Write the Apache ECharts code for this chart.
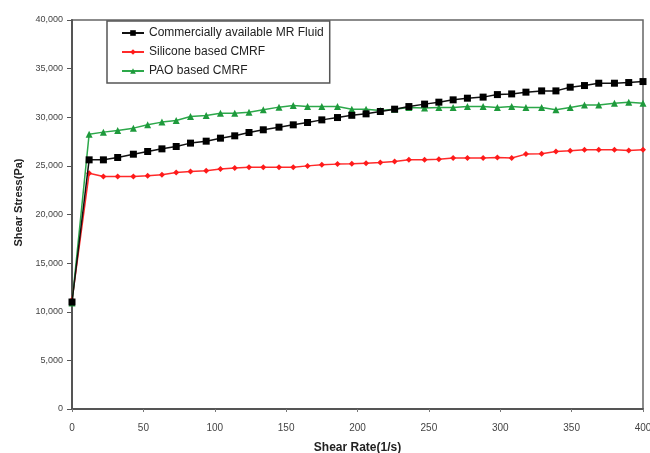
<!DOCTYPE html>
<html>
<head>
<meta charset="utf-8">
<script src="https://cdn.jsdelivr.net/npm/echarts@6/dist/echarts.min.js"></script>
<style>html,body{margin:0;padding:0;background:#fff;}#c{width:650px;height:453px;}</style>
</head>
<body>
<div id="c"></div>
<script>
var shearRate = [0, 12, 22, 32, 43, 53, 63, 73, 83, 94, 104, 114, 124, 134, 145, 155, 165, 175, 186, 196, 206, 216, 226, 236, 247, 257, 267, 277, 288, 298, 308, 318, 329, 339, 349, 359, 369, 380, 390, 400];
var commercialMR = [11000, 25620, 25620, 25860, 26200, 26480, 26750, 26990, 27340, 27540, 27850, 28090, 28430, 28710, 28980, 29220, 29460, 29730, 29970, 30200, 30350, 30590, 30830, 31100, 31350, 31550, 31790, 31960, 32070, 32330, 32400, 32580, 32710, 32710, 33090, 33260, 33500, 33500, 33570, 33670];
var siliconeCMRF = [11200, 24250, 23910, 23910, 23910, 23980, 24080, 24320, 24420, 24500, 24670, 24770, 24870, 24870, 24870, 24870, 25000, 25110, 25180, 25210, 25280, 25340, 25450, 25620, 25620, 25690, 25800, 25800, 25800, 25850, 25800, 26210, 26240, 26480, 26550, 26650, 26650, 26650, 26580, 26650];
var paoCMRF = [10900, 28260, 28470, 28630, 28880, 29220, 29500, 29660, 30070, 30180, 30420, 30420, 30520, 30760, 31040, 31200, 31100, 31100, 31100, 30830, 30830, 30690, 30830, 31000, 30940, 31000, 31000, 31100, 31100, 31000, 31100, 31000, 31000, 30760, 31000, 31270, 31270, 31450, 31550, 31450];
var seriesNames = ['Commercially available MR Fluid', 'Silicone based CMRF', 'PAO based CMRF'];

function pairs(xs, ys) { return xs.map(function (x, i) { return [x, ys[i]]; }); }

var chart = echarts.init(document.getElementById('c'));
var font = 'Liberation Sans, Arial, sans-serif';
chart.setOption({
  animation: false,
  backgroundColor: '#fff',
  grid: { left: 72, right: 7, top: 20, bottom: 44, show: true, borderColor: '#666', borderWidth: 1.5,
    backgroundColor: 'transparent', containLabel: false, outerBoundsMode: 'none' },
  legend: {
    orient: 'vertical', left: 107, top: 21,
    backgroundColor: '#fff',
    borderColor: '#555', borderWidth: 1.5, borderRadius: 0,
    padding: [6, 6, 6, 14],
    itemGap: 7, itemWidth: 22, itemHeight: 7,
    textStyle: { fontFamily: font, fontSize: 12, color: '#222' },
    data: seriesNames
  },
  xAxis: {
    type: 'value', min: 0, max: 400, interval: 50,
    name: 'Shear Rate(1/s)', nameLocation: 'middle', nameGap: 33,
    nameTextStyle: { fontFamily: font, fontSize: 12, fontWeight: 'bold', color: '#222' },
    axisLine: { lineStyle: { color: '#555', width: 2 } },
    axisTick: { show: true, inside: false, length: 3, lineStyle: { color: '#777' } },
    axisLabel: { fontFamily: font, fontSize: 10, color: '#444', margin: 14 },
    splitLine: { show: false }
  },
  yAxis: {
    type: 'value', min: 0, max: 40000, interval: 5000,
    name: 'Shear Stress(Pa)', nameLocation: 'middle', nameGap: 39,
    nameTextStyle: { fontFamily: font, fontSize: 11, fontWeight: 'bold', color: '#222', padding: [0, 0, 0, 24] },
    axisLine: { show: true, lineStyle: { color: '#555', width: 2 } },
    axisTick: { show: true, length: 5, lineStyle: { color: '#555' } },
    axisLabel: { fontFamily: font, fontSize: 9, color: '#444', margin: 9,
      formatter: function (v) { return v.toLocaleString('en-US'); } },
    splitLine: { show: false }
  },
  series: [
    { name: seriesNames[0], type: 'line', data: pairs(shearRate, commercialMR),
      symbol: 'rect', symbolSize: 7, z: 3,
      lineStyle: { color: '#111', width: 1.5 }, itemStyle: { color: '#000' } },
    { name: seriesNames[1], type: 'line', data: pairs(shearRate, siliconeCMRF),
      symbol: 'diamond', symbolSize: 6, z: 2,
      lineStyle: { color: '#ff2a2a', width: 1.5 }, itemStyle: { color: '#ff1a1a' } },
    { name: seriesNames[2], type: 'line', data: pairs(shearRate, paoCMRF),
      symbol: 'triangle', symbolSize: 7, z: 2,
      lineStyle: { color: '#2ca84a', width: 1.5 }, itemStyle: { color: '#1e9a3c' } }
  ]
});
</script>
</body>
</html>
